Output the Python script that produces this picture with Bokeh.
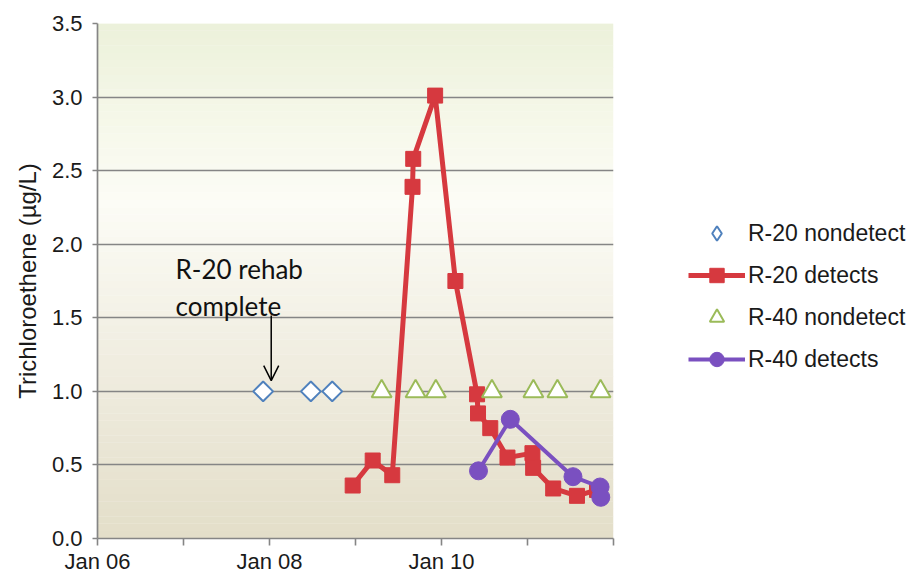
import numpy as np
import pandas as pd
from bokeh.plotting import figure
from bokeh.models import (FixedTicker, NumeralTickFormatter, Range1d, Legend, LegendItem,
                          BoxAnnotation, Label, Arrow, OpenHead, ColumnDataSource)
from bokeh.embed import file_html
from bokeh.resources import INLINE

# ---------------- data ----------------
r20_nd_dates = ["2007-12-05", "2008-06-25", "2008-09-24"]
r20_nd_vals = [1.0, 1.0, 1.0]

r20_det_dates = ["2008-12-20", "2009-03-15", "2009-06-06", "2009-08-31", "2009-09-03",
                 "2009-12-05", "2010-03-01", "2010-06-01", "2010-06-05", "2010-07-27",
                 "2010-10-08", "2011-01-22", "2011-01-25", "2011-04-20", "2011-07-30",
                 "2011-10-23"]
r20_det_vals = [0.36, 0.53, 0.43, 2.39, 2.58, 3.01, 1.75, 0.98, 0.85, 0.75,
                0.55, 0.58, 0.48, 0.34, 0.29, 0.33]

r40_nd_dates = ["2009-04-22", "2009-09-13", "2009-12-08", "2010-08-03", "2011-01-26",
                "2011-05-08", "2011-11-07"]
r40_nd_vals = [1.0] * 7

r40_det_dates = ["2010-06-07", "2010-10-20", "2011-07-13", "2011-11-05", "2011-11-08"]
r40_det_vals = [0.46, 0.81, 0.42, 0.35, 0.28]

year_ticks = [2006, 2007, 2008, 2009, 2010, 2011, 2012]
year_labels = ["Jan 06", "", "Jan 08", "", "Jan 10", "", ""]
y_ticks = [0.0, 0.5, 1.0, 1.5, 2.0, 2.5, 3.0, 3.5]


def dec_year(s):
    d = pd.Timestamp(s)
    start = pd.Timestamp(year=d.year, month=1, day=1)
    end = pd.Timestamp(year=d.year + 1, month=1, day=1)
    return d.year + (d - start) / (end - start)


def conv(lst):
    return [dec_year(s) for s in lst]


# ---------------- figure ----------------
p = figure(frame_width=516, frame_height=515, min_border_left=97, min_border_right=302,
           min_border_top=23, min_border_bottom=38, output_backend="svg",
           toolbar_location=None, x_range=Range1d(2006, 2012), y_range=Range1d(0, 3.5))
p.outline_line_color = None
p.background_fill_color = "white"
p.border_fill_color = "white"

# gradient background (decoration)
stops = [(0.0, (227, 222, 201)), (1.2, (240, 237, 224)), (2.3, (252, 252, 246)),
         (2.8, (246, 248, 234)), (3.5, (236, 241, 218))]
n = 70
edges = np.linspace(0, 3.5, n + 1)
for i in range(n):
    mid = (edges[i] + edges[i + 1]) / 2
    for j in range(len(stops) - 1):
        if stops[j][0] <= mid <= stops[j + 1][0]:
            t = (mid - stops[j][0]) / (stops[j + 1][0] - stops[j][0])
            c = tuple(int(round(stops[j][1][k] + t * (stops[j + 1][1][k] - stops[j][1][k]))) for k in range(3))
            break
    p.add_layout(BoxAnnotation(bottom=edges[i], top=edges[i + 1] + 0.002, fill_color="#%02x%02x%02x" % c,
                               fill_alpha=1.0, line_color=None, level="image"))

# axes
p.xgrid.grid_line_color = None
p.ygrid.grid_line_color = "#858585"
p.ygrid.grid_line_width = 1.7
p.ygrid.ticker = FixedTicker(ticks=y_ticks)
p.ygrid.level = "underlay"

p.xaxis.ticker = FixedTicker(ticks=year_ticks)
p.xaxis.major_label_overrides = {t: l for t, l in zip(year_ticks, year_labels)}
p.yaxis.ticker = FixedTicker(ticks=y_ticks)
p.yaxis.formatter = NumeralTickFormatter(format="0.0")
for ax in (p.xaxis, p.yaxis):
    ax.axis_line_color = "#858585"
    ax.axis_line_width = 1.7
    ax.major_tick_line_color = "#858585"
    ax.major_tick_line_width = 1.6
    ax.major_tick_in = 0
    ax.minor_tick_line_color = None
    ax.major_label_text_font = "Liberation Sans"
    ax.major_label_text_font_size = "22px"
    ax.major_label_text_color = "#1a1a1a"
p.xaxis.major_tick_out = 7
p.xaxis.major_label_standoff = 3
p.yaxis.major_tick_out = 5
p.yaxis.major_label_standoff = 10
p.yaxis.axis_label = "Trichloroethene (µg/L)"
p.yaxis.axis_label_text_font = "Liberation Sans"
p.yaxis.axis_label_text_font_size = "24px"
p.yaxis.axis_label_text_font_style = "normal"
p.yaxis.axis_label_text_color = "#1a1a1a"
p.yaxis.axis_label_standoff = 8

# series
red = "#d6393f"
purple = "#7a50c0"
blue = "#4f81bd"
src_nd20 = ColumnDataSource(dict(x=conv(r20_nd_dates), y=r20_nd_vals))
src_nd20.data["ang"] = [np.pi / 4] * len(r20_nd_vals)
r_nd20 = p.scatter("x", "y", source=src_nd20, marker="square", angle="ang", size=14,
                   fill_color="white", line_color=blue, line_width=2)
# legend swatch for the diamonds (hidden on the plot itself)
r_nd20_key = p.scatter("x", "y", source=src_nd20, marker="diamond", size=14,
                       fill_color="white", line_color=blue, line_width=2, visible=False)
l20 = p.line(conv(r20_det_dates), r20_det_vals, line_color=red, line_width=5)
s20 = p.scatter(conv(r20_det_dates), r20_det_vals, marker="square", size=15,
                fill_color=red, line_color=red)
r_nd40 = p.scatter(conv(r40_nd_dates), r40_nd_vals, marker="triangle", size=20,
                   fill_color="white", line_color="#9bbb59", line_width=2)
l40 = p.line(conv(r40_det_dates), r40_det_vals, line_color=purple, line_width=4)
s40 = p.scatter(conv(r40_det_dates), r40_det_vals, marker="circle", size=18,
                fill_color=purple, line_color=purple)

# annotation
p.add_layout(Label(x=2006.907, y=1.834, text="R-20 rehab", text_font="Lato",
                   text_font_size="26px", text_color="#111111", text_baseline="alphabetic"))
p.add_layout(Label(x=2006.907, y=1.583, text="complete", text_font="Lato",
                   text_font_size="26px", text_color="#111111", text_baseline="alphabetic"))
p.add_layout(Arrow(x_start=2008.02, y_start=1.515, x_end=2008.02, y_end=1.073,
                   line_color="black", line_width=1.5,
                   end=OpenHead(size=15, line_color="black", line_width=1.5)))

legend = Legend(items=[
    LegendItem(label="R-20 nondetect", renderers=[r_nd20_key]),
    LegendItem(label="R-20 detects", renderers=[l20, s20]),
    LegendItem(label="R-40 nondetect", renderers=[r_nd40]),
    LegendItem(label="R-40 detects", renderers=[l40, s40]),
], location=(75, 161))
legend.border_line_color = None
legend.background_fill_alpha = 0
legend.inactive_fill_alpha = 0
legend.padding = 0
legend.margin = 0
legend.spacing = 6
legend.label_height = 36
legend.glyph_height = 36
legend.glyph_width = 57
legend.label_standoff = 3
legend.label_text_font = "Liberation Sans"
legend.label_text_font_size = "23px"
legend.label_text_color = "#1a1a1a"
p.add_layout(legend, "right")

open("out.html", "w").write(file_html(p, INLINE))
